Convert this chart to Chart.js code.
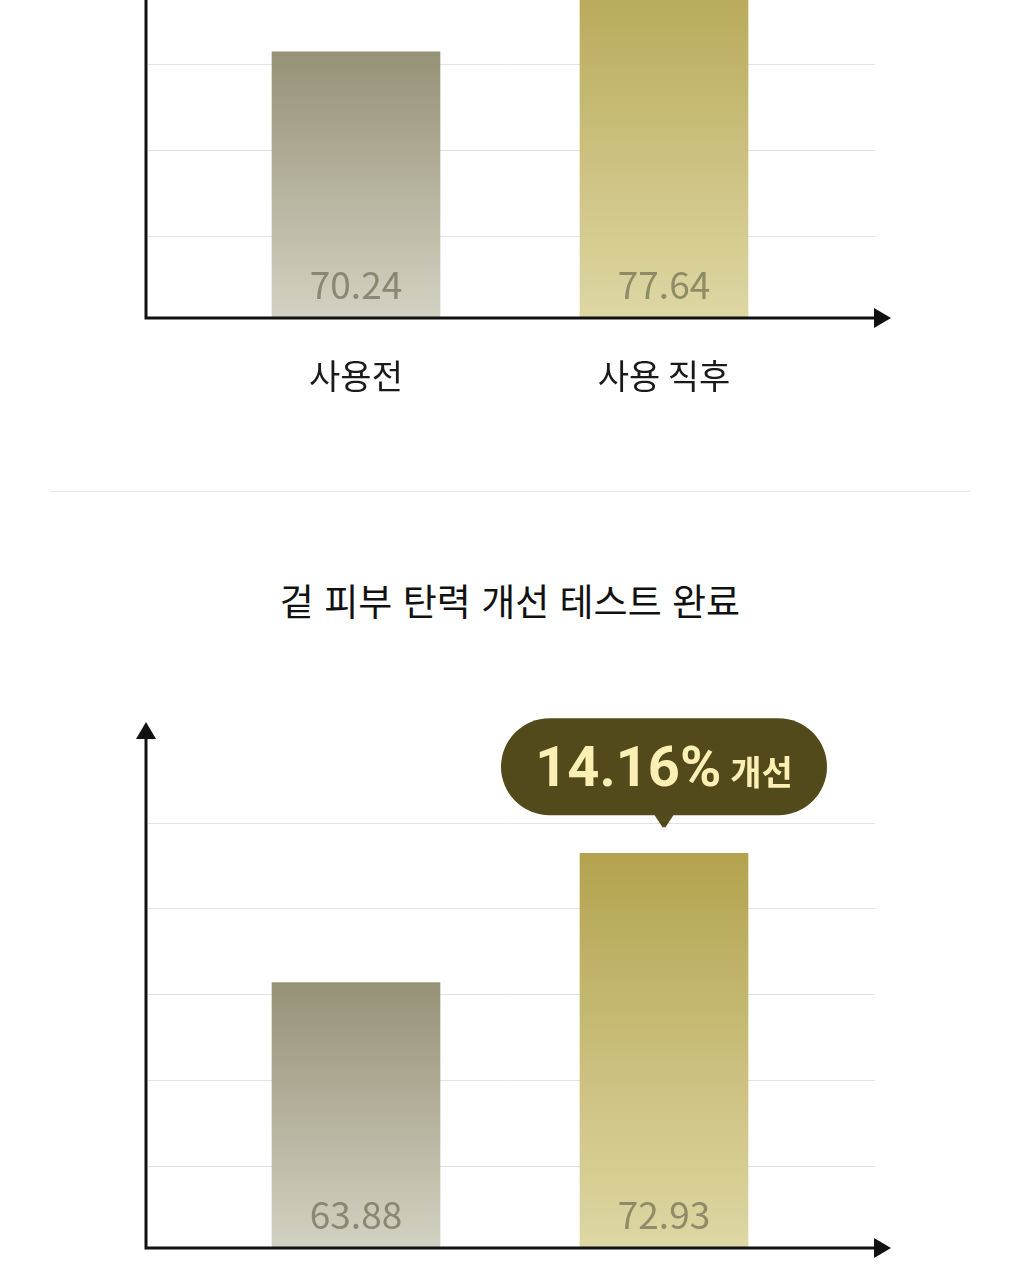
<!DOCTYPE html>
<html lang="ko">
<head>
<meta charset="utf-8">
<script src="https://cdn.jsdelivr.net/npm/chart.js@4.4.1/dist/chart.umd.min.js"></script>
<style>
  html, body { margin: 0; padding: 0; background: #fff; }
  body { width: 1020px; height: 1280px; position: relative; overflow: hidden; font-family: "Noto Sans CJK KR", sans-serif; }
  .box { position: absolute; left: 0; width: 1020px; height: 700px; }
  #topBox { top: -290px; }
  #bottomBox { top: 640px; }
  .sep { position: absolute; left: 50px; width: 920px; top: 491px; height: 1px; background: #e6e6e6; }
  .title { position: absolute; left: 0; width: 1020px; top: 578px; line-height: 44px; text-align: center; font-size: 37px; color: #111; }
</style>
</head>
<body>
<div class="box" id="topBox"><canvas id="topChart"></canvas></div>
<div class="sep"></div>
<div class="title">겉 피부 탄력 개선 테스트 완료</div>
<div class="box" id="bottomBox"><canvas id="bottomChart"></canvas></div>
<script>
// data
var categories = ["사용전", "사용 직후"];
var topValues = [70.24, 77.64];
var bottomValues = [63.88, 72.93];
var topGridTicks = [57.3, 63.3, 69.3, 75.3, 81.3];
var bottomGridTicks = [51, 57, 63, 69, 75];
var badgeValue = "14.16%";
var badgeWord = "개선";

var barTops = ["#969277", "#b3a34f"];
var barBottoms = ["#d3d1c2", "#ded7a4"];

/*-------------- grid + arrow axes ------------*/
var axesPlugin = {
  id: 'axes',
  beforeDatasetsDraw: function (chart) {
    var ctx = chart.ctx, y = chart.scales.y;
    ctx.save();
    ctx.strokeStyle = '#e2e2e2';
    ctx.lineWidth = 1;
    y.ticks.forEach(function (t) {
      var py = Math.round(y.getPixelForValue(t.value)) - 0.5;
      ctx.beginPath();
      ctx.moveTo(148, py);
      ctx.lineTo(875, py);
      ctx.stroke();
    });
    ctx.restore();
  },
  afterDatasetsDraw: function (chart) {
    var ctx = chart.ctx, a = chart.chartArea;
    ctx.save();
    ctx.strokeStyle = '#111';
    ctx.fillStyle = '#111';
    ctx.lineWidth = 3;
    ctx.beginPath();
    ctx.moveTo(146, a.bottom + 1.5);
    ctx.lineTo(146, a.top);
    ctx.moveTo(144.5, a.bottom);
    ctx.lineTo(876, a.bottom);
    ctx.stroke();
    ctx.beginPath();
    ctx.moveTo(136, a.top + 1);
    ctx.lineTo(156, a.top + 1);
    ctx.lineTo(146, a.top - 16);
    ctx.closePath();
    ctx.fill();
    ctx.beginPath();
    ctx.moveTo(874, a.bottom - 10);
    ctx.lineTo(874, a.bottom + 10);
    ctx.lineTo(891, a.bottom);
    ctx.closePath();
    ctx.fill();
    ctx.restore();
  }
};

/*-------------- value text inside bars ------------*/
var valuePlugin = {
  id: 'values',
  afterDatasetsDraw: function (chart) {
    var ctx = chart.ctx, a = chart.chartArea;
    var ds = chart.data.datasets[0];
    ctx.save();
    ctx.font = '37px "Noto Sans CJK KR"';
    ctx.fillStyle = 'rgba(100,98,74,0.64)';
    ctx.textAlign = 'center';
    ctx.textBaseline = 'alphabetic';
    chart.getDatasetMeta(0).data.forEach(function (bar, i) {
      ctx.fillText(ds.data[i].toFixed(2), bar.x, a.bottom - 19);
    });
    ctx.restore();
  }
};

/*-------------- speech badge over 2nd bar ------------*/
var badgePlugin = {
  id: 'badge',
  afterDatasetsDraw: function (chart) {
    var ctx = chart.ctx;
    var bar = chart.getDatasetMeta(0).data[1];
    var w = 326, h = 97, r = 48.5;
    var bottom = bar.y - 38, top = bottom - h, left = bar.x - w / 2;
    ctx.save();
    ctx.fillStyle = '#534a1c';
    ctx.beginPath();
    ctx.roundRect(left, top, w, h, r);
    ctx.fill();
    ctx.beginPath();
    ctx.moveTo(bar.x - 10, bottom - 1);
    ctx.lineTo(bar.x + 10, bottom - 1);
    ctx.lineTo(bar.x + 1.5, bottom + 12);
    ctx.lineTo(bar.x - 1.5, bottom + 12);
    ctx.closePath();
    ctx.fill();

    ctx.fillStyle = '#fcefb4';
    ctx.textBaseline = 'alphabetic';
    ctx.textAlign = 'left';
    ctx.font = 'bold 56px Roboto';
    var w1 = ctx.measureText(badgeValue).width;
    ctx.font = 'bold 34px "Noto Sans CJK KR"';
    var w2 = ctx.measureText(badgeWord).width;
    var gap = 9;
    var x0 = bar.x - (w1 + gap + w2) / 2;
    var base = top + 68;
    ctx.font = 'bold 56px Roboto';
    ctx.fillText(badgeValue, x0, base);
    ctx.font = 'bold 34px "Noto Sans CJK KR"';
    ctx.fillText(badgeWord, x0 + w1 + gap, base - 1);
    ctx.restore();
  }
};

function makeChart(id, values, yMin, yMax, gridTicks, withBadge) {
  var ctx = document.getElementById(id).getContext('2d');
  var plugins = [axesPlugin, valuePlugin];
  if (withBadge) plugins.push(badgePlugin);
  return new Chart(ctx, {
    type: 'bar',
    data: {
      labels: categories,
      datasets: [{
        data: values,
        barThickness: 168,
        borderWidth: 0,
        backgroundColor: function (c) {
          var chart = c.chart, area = chart.chartArea;
          if (!area || c.type !== 'data') return barTops[c.dataIndex];
          var top = chart.scales.y.getPixelForValue(c.raw);
          var g = chart.ctx.createLinearGradient(0, top, 0, area.bottom);
          g.addColorStop(0, barTops[c.dataIndex]);
          g.addColorStop(1, barBottoms[c.dataIndex]);
          return g;
        }
      }]
    },
    options: {
      responsive: true,
      maintainAspectRatio: false,
      animation: false,
      layout: { padding: { left: 202, right: 202, top: 98, bottom: 0 } },
      plugins: { legend: { display: false }, tooltip: { enabled: false } },
      scales: {
        x: {
          grid: { display: false },
          border: { display: false },
          ticks: { color: '#1a1a1a', padding: 30, font: { family: '"Noto Sans CJK KR"', size: 34 } },
          afterFit: function (s) { s.height = 92; }
        },
        y: {
          min: yMin,
          max: yMax,
          grid: { display: false },
          border: { display: false },
          ticks: { display: false },
          afterBuildTicks: function (s) {
            s.ticks = gridTicks.map(function (v) { return { value: v }; });
          },
          afterFit: function (s) { s.width = 0; }
        }
      }
    },
    plugins: plugins
  });
}

makeChart('topChart', topValues, 51.6, 87.3, topGridTicks, false);
makeChart('bottomChart', bottomValues, 45.3, 81, bottomGridTicks, true);
</script>
</body>
</html>
